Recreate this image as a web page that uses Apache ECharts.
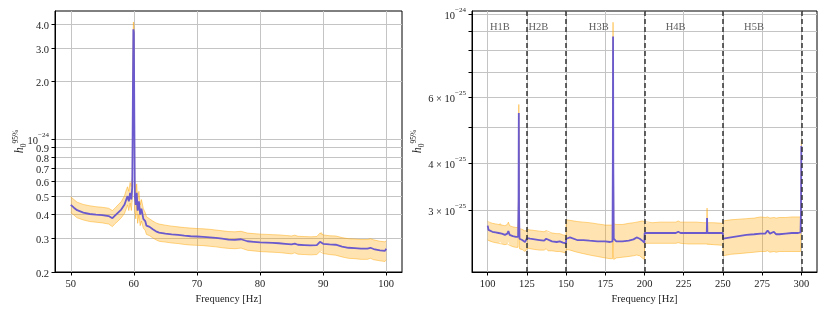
<!DOCTYPE html>
<html>
<head>
<meta charset="utf-8">
<script src="https://cdn.jsdelivr.net/npm/echarts@6/dist/echarts.min.js"></script>
<style>html,body{margin:0;padding:0;background:#fff;}#c{width:830px;height:312px;}</style>
</head>
<body>
<div id="c"></div>
<script>
// ---------- Left panel data (h0 in units of 1e-24) ----------
const freqL = [50,50.5,51,52,53,54,55,56,56.6,57,57.5,58,58.5,58.8,59.0,59.2,59.4,59.6,59.75,59.85,59.92,60.0,60.08,60.15,60.3,60.45,60.6,60.8,61.0,61.2,61.5,61.8,62.0,62.5,63,63.5,64,65,66,67,68,69,70,71,72,73,74,75,76,77,78,79,80,81,82,83,84,85,85.5,86,87,88,89,89.5,89.8,90.0,91,92,93,94,95,96,97,97.5,98,99,99.8,100];
const centerL = [0.450,0.435,0.422,0.410,0.403,0.400,0.398,0.393,0.383,0.395,0.410,0.425,0.450,0.480,0.500,0.470,0.520,0.480,0.560,1.80,3.75,3.60,1.20,0.500,0.450,0.520,0.420,0.470,0.400,0.430,0.380,0.370,0.350,0.345,0.335,0.327,0.322,0.318,0.315,0.313,0.310,0.308,0.307,0.306,0.304,0.302,0.299,0.296,0.295,0.297,0.290,0.288,0.286,0.285,0.284,0.283,0.281,0.279,0.282,0.278,0.277,0.276,0.277,0.288,0.292,0.281,0.279,0.278,0.272,0.268,0.267,0.265,0.265,0.268,0.264,0.260,0.258,0.265];
const upperL = [0.495,0.480,0.465,0.452,0.445,0.440,0.437,0.432,0.420,0.432,0.450,0.468,0.500,0.540,0.560,0.530,0.590,0.560,0.640,2.20,4.10,4.00,1.50,0.600,0.520,0.580,0.480,0.530,0.450,0.480,0.430,0.410,0.390,0.380,0.370,0.362,0.357,0.352,0.348,0.345,0.342,0.340,0.338,0.337,0.335,0.332,0.329,0.326,0.325,0.327,0.320,0.318,0.316,0.315,0.314,0.313,0.311,0.309,0.312,0.308,0.307,0.306,0.307,0.320,0.325,0.313,0.310,0.309,0.303,0.299,0.298,0.296,0.296,0.299,0.295,0.290,0.288,0.292];
const lowerL = [0.410,0.398,0.385,0.375,0.368,0.365,0.362,0.357,0.346,0.358,0.370,0.385,0.405,0.430,0.450,0.420,0.460,0.420,0.480,1.40,3.30,3.20,0.90,0.420,0.380,0.450,0.360,0.400,0.350,0.370,0.340,0.330,0.315,0.310,0.302,0.295,0.290,0.287,0.284,0.282,0.279,0.277,0.276,0.275,0.273,0.271,0.268,0.266,0.265,0.267,0.260,0.258,0.256,0.255,0.254,0.253,0.251,0.249,0.252,0.248,0.247,0.246,0.247,0.256,0.258,0.250,0.247,0.245,0.240,0.236,0.235,0.233,0.233,0.236,0.232,0.229,0.227,0.232];

// ---------- Right panel data (h0 in units of 1e-25) ----------
const freqR = [100,100.5,101,103,105,107,108,109,111,112.5,113.2,114,116,118,119.4,119.7,119.85,120.0,120.3,121,122,123,123.8,124.5,124.9,
  125.1,127,130,133,136,137.3,138.5,141,144,146,148,149.9,
  150.1,152.5,153.5,157,161,165,170,175,178,179.6,179.8,179.95,180.1,180.4,182,186,190,193,195,197,198.5,199.9,
  200.1,205,210,215,220,221.5,223,228,233,238,239.7,239.9,240.1,244,249.9,
  250.1,255,260,265,270,274,277,278.5,280,282.5,284,286,290,294,298,299.5,299.8,300];
const centerR = [2.73,2.66,2.64,2.63,2.62,2.61,2.63,2.60,2.58,2.60,2.64,2.58,2.56,2.55,2.55,3.20,5.45,3.00,2.52,2.50,2.50,2.50,2.47,2.49,2.49,
  2.53,2.52,2.51,2.50,2.49,2.52,2.49,2.48,2.47,2.48,2.46,2.45,
  2.52,2.54,2.51,2.50,2.50,2.49,2.48,2.48,2.47,2.48,4.00,8.70,4.00,2.52,2.48,2.48,2.49,2.51,2.54,2.52,2.49,2.46,
  2.61,2.61,2.61,2.61,2.61,2.63,2.61,2.61,2.61,2.61,2.61,2.86,2.61,2.61,2.61,
  2.52,2.54,2.56,2.58,2.59,2.60,2.60,2.65,2.60,2.63,2.59,2.59,2.60,2.61,2.61,2.62,3.00,4.45];
const upperR = [2.80,2.79,2.78,2.77,2.76,2.75,2.78,2.74,2.73,2.75,2.79,2.73,2.71,2.70,2.70,3.40,5.74,3.20,2.68,2.67,2.67,2.66,2.64,2.65,2.65,
  2.67,2.66,2.65,2.64,2.63,2.65,2.62,2.61,2.60,2.60,2.58,2.57,
  2.83,2.82,2.82,2.80,2.79,2.78,2.76,2.74,2.74,2.74,4.50,9.50,4.50,2.76,2.75,2.75,2.77,2.78,2.79,2.80,2.81,2.80,
  2.78,2.78,2.79,2.79,2.79,2.81,2.79,2.79,2.79,2.78,2.78,3.04,2.78,2.78,2.77,
  2.81,2.83,2.84,2.85,2.86,2.88,2.87,2.88,2.86,2.87,2.86,2.87,2.87,2.88,2.88,2.88,3.20,4.60];
const lowerR = [2.50,2.49,2.48,2.47,2.46,2.45,2.47,2.44,2.43,2.44,2.47,2.42,2.40,2.39,2.39,2.90,5.00,2.80,2.37,2.36,2.36,2.35,2.33,2.34,2.34,
  2.38,2.37,2.36,2.35,2.35,2.37,2.34,2.34,2.33,2.33,2.32,2.31,
  2.36,2.35,2.34,2.32,2.30,2.28,2.26,2.24,2.23,2.23,3.00,6.00,2.30,2.22,2.24,2.25,2.26,2.27,2.28,2.27,2.24,2.22,
  2.45,2.45,2.45,2.45,2.45,2.46,2.45,2.44,2.44,2.44,2.44,2.42,2.43,2.43,2.42,
  2.27,2.29,2.30,2.31,2.32,2.33,2.33,2.34,2.32,2.33,2.32,2.33,2.33,2.33,2.33,2.33,2.80,4.20];

// ---------- Bands (right panel) ----------
const bandNames = ['H1B','H2B','H3B','H4B','H5B'];
const bandLabelFreq = [101.5,126,164.5,213.5,263.5];
const bandLabelLevel = 9.2;
const bandEdges = [125,150,200,250,300];

// ---------- Ticks ----------
const xTicksL = [50,60,70,80,90,100];
const xTicksR = [100,125,150,175,200,225,250,275,300];
const yTicksL = [0.2,0.3,0.4,0.5,0.6,0.7,0.8,0.9,1,2,3,4];
const yTickTextL = ['0.2','0.3','0.4','0.5','0.6','0.7','0.8','0.9','{b|10}{s|\u221224}','2.0','3.0','4.0'];
const yTicksR = [3,4,5,6,7,8,9,10];
const yLabelValsR = [3,4,6,10];
const yLabelTextR = ['{b|3 \u00d7 10}{s|\u221225}','{b|4 \u00d7 10}{s|\u221225}','{b|6 \u00d7 10}{s|\u221225}','{b|10}{s|\u221224}'];

const FONT = 'Liberation Serif';
const FS = 10.5;
const zip = (a,b) => a.map((v,i)=>[v,b[i]]);
const zip3 = (a,b,c) => a.map((v,i)=>[v,b[i],c[i]]);

const bandEdge = 'rgba(255,165,0,0.45)';
const bandFill = 'rgba(255,165,0,0.30)';
const lineCol = '#6a5acd';

const rich = {
  b: {fontFamily: FONT, fontSize: FS, color:'#222', lineHeight: 15, verticalAlign:'bottom'},
  s: {fontFamily: FONT, fontSize: 7, color:'#222', lineHeight: 8, verticalAlign:'top'}
};
const nameRich = {
  h: {fontFamily: FONT, fontSize: 12, fontStyle:'italic', color:'#222', lineHeight: 16, verticalAlign:'middle'},
  sub: {fontFamily: FONT, fontSize: 7.5, color:'#222', lineHeight: 8, verticalAlign:'bottom'},
  sup: {fontFamily: FONT, fontSize: 7.5, color:'#222', lineHeight: 8, verticalAlign:'top'}
};

function xAxisCfg(idx, min, max, ticks){
  return {
    type:'value', gridIndex: idx, min, max,
    name:'Frequency [Hz]', nameLocation:'middle', nameGap: 22, nameMoveOverlap:false,
    nameTextStyle:{fontFamily:FONT, fontSize:FS, color:'#222'},
    axisLine:{show:true, onZero:false, lineStyle:{color:'#000', width:1}},
    axisTick:{show:true, inside:false, length:3.5, customValues: ticks, lineStyle:{color:'#000'}},
    axisLabel:{show:true, margin:7, customValues: ticks, fontFamily:FONT, fontSize:FS, color:'#222'},
    splitLine:{show:true, lineStyle:{color:'#c4c4c4', width:1}}
  };
}

// band polygon drawn through the axes' coordinate system
function bandRenderer(freq, up, lo){
  return function(params, api){
    if (params.dataIndex !== 0) return null;
    const pts = [];
    for (let i=0;i<freq.length;i++) pts.push(api.coord([freq[i], up[i]]));
    for (let i=freq.length-1;i>=0;i--) pts.push(api.coord([freq[i], lo[i]]));
    return {type:'polygon', shape:{points:pts}, style:{fill:bandFill}, silent:true};
  };
}

const option = {
  animation:false,
  backgroundColor:'#fff',
  grid:[
    {left:55, right:428, top:11, bottom:40, show:true, borderColor:'#000', borderWidth:1},
    {left:472, right:13, top:11, bottom:40, show:true, borderColor:'#000', borderWidth:1}
  ],
  xAxis:[ xAxisCfg(0, 47.5, 102.5, xTicksL), xAxisCfg(1, 90, 310, xTicksR) ],
  yAxis:[
    {type:'log', gridIndex:0, min:0.2, max:4.68, logBase:10,
     name:'{h|h}{sub|0}{sup|95%}', nameLocation:'middle', nameGap:27, nameRotate:90, nameMoveOverlap:false,
     nameTextStyle:{rich:nameRich},
     axisLine:{show:true, lineStyle:{color:'#000'}},
     axisTick:{show:true, length:3.5, customValues:yTicksL, lineStyle:{color:'#000'}},
     axisLabel:{show:true, margin:6, customValues:yTicksL,
       formatter:(v)=>{ const i = yTicksL.findIndex(t=>Math.abs(t-v)<1e-6); return i>=0 ? (yTickTextL[i].startsWith('{')?yTickTextL[i]:'{b|'+yTickTextL[i]+'}') : ''; },
       rich},
     splitLine:{show:true, lineStyle:{color:'#c4c4c4', width:1}}
    },
    {type:'log', gridIndex:1, min:2.055, max:10.18, logBase:10,
     name:'{h|h}{sub|0}{sup|95%}', nameLocation:'middle', nameGap:46, nameRotate:90, nameMoveOverlap:false,
     nameTextStyle:{rich:nameRich},
     axisLine:{show:true, lineStyle:{color:'#000'}},
     axisTick:{show:true, length:3.5, customValues:yTicksR, lineStyle:{color:'#000'}},
     axisLabel:{show:true, margin:6, customValues:yLabelValsR,
       formatter:(v)=>{ const i = yLabelValsR.findIndex(t=>Math.abs(t-v)<1e-6); return i>=0 ? yLabelTextR[i] : ''; },
       rich},
     splitLine:{show:true, lineStyle:{color:'#c4c4c4', width:1}}
    }
  ],
  series:[
    {type:'custom', xAxisIndex:0, yAxisIndex:0, data:zip3(freqL, lowerL, upperL),
     renderItem: bandRenderer(freqL, upperL, lowerL), z:1, silent:true, clip:true},
    {type:'line', xAxisIndex:0, yAxisIndex:0, data:zip(freqL, lowerL), symbol:'none',
     lineStyle:{color:bandEdge, width:1}, z:2, silent:true},
    {type:'line', xAxisIndex:0, yAxisIndex:0, data:zip(freqL, upperL), symbol:'none',
     lineStyle:{color:bandEdge, width:1}, z:2, silent:true},
    {type:'line', xAxisIndex:0, yAxisIndex:0, data:zip(freqL, centerL), symbol:'none',
     lineStyle:{color:lineCol, width:1.8}, z:3, silent:true},

    {type:'custom', xAxisIndex:1, yAxisIndex:1, data:zip3(freqR, lowerR, upperR),
     renderItem: bandRenderer(freqR, upperR, lowerR), z:1, silent:true, clip:true},
    {type:'line', xAxisIndex:1, yAxisIndex:1, data:zip(freqR, lowerR), symbol:'none',
     lineStyle:{color:bandEdge, width:1}, z:2, silent:true},
    {type:'line', xAxisIndex:1, yAxisIndex:1, data:zip(freqR, upperR), symbol:'none',
     lineStyle:{color:bandEdge, width:1}, z:2, silent:true},
    {type:'line', xAxisIndex:1, yAxisIndex:1, data:zip(freqR, centerR), symbol:'none',
     lineStyle:{color:lineCol, width:1.8}, z:3, silent:true,
     markLine:{silent:true, symbol:['none','none'], label:{show:false},
       lineStyle:{color:'#333', type:[5,3], width:1.5},
       data: bandEdges.map(e=>({xAxis:e}))}
    },
    {type:'scatter', xAxisIndex:1, yAxisIndex:1, symbolSize:0, silent:true, z:5,
     data: bandNames.map((n,i)=>({name:n, value:[bandLabelFreq[i], bandLabelLevel]})),
     label:{show:true, position:'right', distance:0, formatter:'{b}', fontFamily:FONT, fontSize:FS, color:'#333'}
    }
  ]
};
const chart = echarts.init(document.getElementById('c'), null, {renderer:'canvas'});
chart.setOption(option);
</script>
</body>
</html>
